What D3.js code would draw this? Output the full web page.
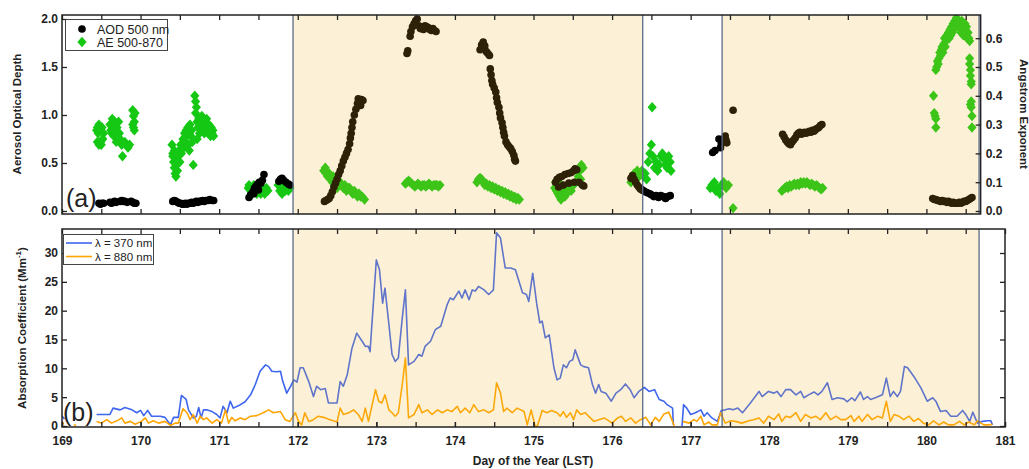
<!DOCTYPE html>
<html><head><meta charset="utf-8">
<script src="https://cdn.jsdelivr.net/npm/d3@7"></script>
<style>body{margin:0;background:#fff}svg{display:block;font-family:"Liberation Sans",Arial,sans-serif}</style>
</head><body><svg id="c" width="1029" height="469"></svg>
<script>
// ---------- DATA ----------
const xTicks = [169,170,171,172,173,174,175,176,177,178,179,180,181];
const aodTicks = [0,0.5,1.0,1.5,2.0];
const aeTicks = [0,0.1,0.2,0.3,0.4,0.5,0.6];
const absTicks = [0,5,10,15,20,25,30];
const shadeStart = [171.94, 177.40];
const shadeEnd = [176.39, 180.67];

// AOD 500 nm [day, AOD]
const aod = [
[169.47,0.08],[169.49,0.07],[169.51,0.08],[169.53,0.08],
[169.61,0.09],[169.63,0.08],[169.65,0.09],[169.67,0.10],[169.69,0.09],
[169.74,0.10],[169.76,0.11],[169.78,0.10],[169.80,0.10],[169.83,0.09],
[169.88,0.10],[169.90,0.09],[169.92,0.08],[169.94,0.08],
[170.41,0.10],[170.43,0.11],[170.45,0.10],[170.47,0.09],[170.49,0.08],[170.51,0.08],[170.53,0.07],[170.55,0.07],[170.57,0.08],[170.59,0.07],[170.61,0.08],[170.63,0.08],[170.65,0.09],[170.67,0.08],[170.69,0.09],[170.71,0.10],[170.73,0.09],[170.75,0.10],[170.77,0.10],[170.79,0.11],[170.81,0.10],[170.83,0.11],[170.86,0.11],[170.88,0.12],[170.91,0.11],[170.93,0.11],
[171.38,0.14],[171.40,0.17],[171.43,0.20],[171.44,0.18],[171.45,0.24],[171.47,0.26],[171.49,0.28],[171.50,0.22],[171.51,0.30],[171.53,0.29],[171.55,0.32],[171.57,0.38],
[171.76,0.31],[171.78,0.33],[171.80,0.34],[171.82,0.32],[171.85,0.30],[171.88,0.28],[171.90,0.27],
[172.34,0.10],[172.36,0.11],[172.38,0.12],[172.40,0.13],[172.42,0.16],[172.44,0.20],[172.46,0.25],[172.48,0.29],[172.50,0.33],[172.52,0.38],[172.54,0.42],[172.56,0.47],[172.58,0.52],[172.60,0.56],[172.62,0.60],[172.64,0.64],[172.66,0.70],[172.67,0.76],[172.68,0.81],[172.69,0.87],[172.70,0.93],[172.72,1.00],[172.74,1.06],[172.76,1.12],[172.77,1.17],[172.79,1.14],[172.80,1.10],[172.81,1.16],[172.83,1.15],
[173.39,1.64],[173.40,1.67],[173.43,1.82],[173.44,1.87],[173.46,1.92],[173.48,1.95],[173.50,1.98],[173.52,2.00],[173.54,1.93],[173.56,1.90],[173.58,1.92],[173.60,1.89],[173.62,1.93],[173.64,1.92],[173.66,1.91],[173.68,1.89],[173.70,1.88],[173.72,1.90],[173.74,1.88],[173.76,1.87],
[174.32,1.68],[174.34,1.73],[174.36,1.76],[174.38,1.72],[174.40,1.66],[174.42,1.64],[174.44,1.62],[174.45,1.48],[174.46,1.42],[174.47,1.36],[174.48,1.32],[174.50,1.28],[174.52,1.24],[174.53,1.18],[174.54,1.13],[174.56,1.08],[174.57,1.02],[174.58,0.97],[174.60,0.92],[174.61,0.87],[174.62,0.82],[174.63,0.78],[174.65,0.72],[174.67,0.69],[174.69,0.67],[174.71,0.65],[174.73,0.62],[174.75,0.58],[174.76,0.54],[174.77,0.52],
[175.28,0.30],[175.30,0.33],[175.33,0.35],[175.36,0.36],[175.40,0.38],[175.44,0.39],[175.48,0.40],[175.51,0.42],[175.53,0.44],[175.55,0.43],
[175.32,0.25],[175.38,0.27],[175.45,0.29],[175.52,0.30],[175.58,0.30],[175.62,0.27],[175.64,0.26],
[176.24,0.34],[176.26,0.37],[176.28,0.33],[176.30,0.30],[176.32,0.27],[176.34,0.25],[176.36,0.23],[176.38,0.22],[176.40,0.21],[176.42,0.20],[176.45,0.19],[176.48,0.18],[176.50,0.17],[176.53,0.15],[176.56,0.16],[176.59,0.14],[176.62,0.16],[176.65,0.15],[176.68,0.13],[176.71,0.15],[176.74,0.16],
[177.28,0.61],[177.31,0.63],[177.36,0.75],[177.38,0.66],[177.39,0.70],[177.44,0.78],[177.45,0.74],[177.46,0.71],[177.54,1.05],
[178.17,0.80],[178.19,0.77],[178.21,0.74],[178.23,0.72],[178.25,0.70],[178.27,0.69],[178.29,0.72],[178.31,0.74],[178.33,0.76],[178.35,0.79],[178.37,0.81],[178.39,0.82],[178.41,0.80],[178.43,0.81],[178.45,0.82],[178.47,0.81],[178.49,0.82],[178.51,0.83],[178.53,0.82],[178.55,0.84],[178.57,0.83],[178.59,0.85],[178.61,0.86],[178.63,0.87],[178.65,0.89],[178.67,0.90],
[180.08,0.13],[180.10,0.12],[180.12,0.12],[180.14,0.11],[180.16,0.11],[180.18,0.10],[180.20,0.11],[180.22,0.10],[180.24,0.10],[180.26,0.09],[180.28,0.10],[180.30,0.09],[180.32,0.08],[180.34,0.09],[180.36,0.08],[180.38,0.08],[180.40,0.08],[180.42,0.09],[180.44,0.08],[180.46,0.09],[180.48,0.10],[180.50,0.10],[180.52,0.11],[180.54,0.12],[180.56,0.13],[180.58,0.14]
];

// AE 500-870 [day, AE]
const ae = [
[169.44,0.28],[169.45,0.29],[169.46,0.27],[169.47,0.30],[169.48,0.28],[169.45,0.24],[169.47,0.23],[169.49,0.24],[169.50,0.23],[169.52,0.25],[169.53,0.27],[169.51,0.29],
[169.61,0.30],[169.62,0.28],[169.63,0.27],[169.64,0.32],[169.65,0.29],[169.66,0.26],[169.67,0.31],[169.68,0.28],[169.69,0.24],[169.70,0.29],[169.72,0.31],[169.73,0.27],[169.74,0.25],[169.77,0.19],[169.76,0.23],
[169.80,0.24],[169.82,0.23],[169.84,0.22],[169.86,0.23],
[169.90,0.35],[169.91,0.33],[169.92,0.31],[169.91,0.29],[169.93,0.34],[169.92,0.28],[169.90,0.30],
[170.40,0.23],[170.41,0.20],[170.42,0.17],[170.43,0.15],[170.44,0.13],[170.45,0.12],[170.41,0.19],[170.43,0.21],[170.45,0.18],[170.46,0.16],[170.47,0.14],[170.48,0.19],[170.49,0.21],[170.50,0.17],[170.51,0.23],[170.52,0.20],
[170.54,0.25],[170.55,0.22],[170.56,0.27],[170.57,0.24],[170.58,0.28],[170.59,0.26],[170.60,0.29],[170.61,0.23],[170.62,0.27],[170.63,0.30],[170.64,0.26],[170.65,0.28],[170.66,0.24],[170.67,0.16],[170.62,0.21],
[170.69,0.40],[170.70,0.38],[170.71,0.36],[170.70,0.34],[170.72,0.31],[170.73,0.29],[170.74,0.32],[170.75,0.27],[170.72,0.25],
[170.77,0.31],[170.78,0.33],[170.79,0.29],[170.80,0.31],[170.81,0.27],[170.82,0.30],[170.83,0.28],[170.84,0.32],[170.85,0.29],[170.86,0.27],[170.87,0.30],[170.88,0.28],[170.89,0.26],[170.90,0.29],[170.91,0.27],[170.92,0.28],[170.93,0.26],
[171.37,0.08],[171.38,0.09],[171.40,0.07],[171.41,0.08],[171.42,0.06],[171.44,0.09],[171.45,0.07],[171.47,0.08],[171.48,0.06],[171.50,0.07],[171.52,0.09],[171.53,0.06],[171.55,0.08],[171.57,0.07],[171.58,0.06],[171.60,0.08],[171.62,0.07],
[171.75,0.09],[171.77,0.07],[171.79,0.10],[171.80,0.06],[171.82,0.08],[171.84,0.07],[171.86,0.08],[171.88,0.07],[171.90,0.08],
[172.33,0.14],[172.35,0.15],[172.36,0.13],[172.38,0.12],[172.40,0.13],[172.42,0.11],[172.44,0.10],[172.45,0.12],[172.47,0.09],[172.49,0.10],[172.50,0.08],[172.52,0.09],[172.54,0.10],[172.56,0.09],[172.58,0.08],[172.60,0.09],[172.62,0.07],[172.64,0.08],[172.66,0.08],[172.68,0.07],[172.70,0.06],[172.72,0.07],[172.74,0.06],[172.76,0.05],[172.78,0.06],[172.80,0.05],[172.82,0.05],[172.85,0.04],
[173.37,0.095],[173.39,0.10],[173.41,0.105],[173.43,0.10],[173.45,0.095],[173.47,0.09],[173.49,0.085],[173.51,0.09],[173.53,0.095],[173.55,0.09],[173.57,0.085],[173.59,0.09],[173.61,0.09],[173.63,0.085],[173.65,0.09],[173.67,0.095],[173.69,0.09],[173.71,0.085],[173.73,0.09],[173.75,0.09],[173.77,0.09],[173.79,0.085],[173.81,0.09],
[174.28,0.10],[174.30,0.11],[174.32,0.115],[174.34,0.11],[174.36,0.10],[174.38,0.09],[174.40,0.095],[174.42,0.085],[174.44,0.09],[174.46,0.08],[174.48,0.085],[174.50,0.075],[174.52,0.08],[174.54,0.07],[174.56,0.075],[174.58,0.065],[174.60,0.07],[174.62,0.06],[174.64,0.065],[174.66,0.055],[174.68,0.06],[174.70,0.05],[174.72,0.055],[174.74,0.045],[174.76,0.05],[174.78,0.04],[174.80,0.045],[174.82,0.04],
[175.27,0.08],[175.29,0.07],[175.31,0.06],[175.33,0.05],[175.35,0.04],[175.37,0.06],[175.30,0.09],[175.32,0.10],[175.35,0.09],[175.39,0.07],[175.42,0.06],[175.45,0.08],[175.48,0.07],[175.51,0.09],[175.54,0.10],[175.57,0.12],[175.59,0.14],[175.61,0.16],[175.63,0.15],[175.60,0.11],[175.28,0.10],[175.40,0.05],
[176.24,0.10],[176.26,0.12],[176.28,0.13],[176.30,0.11],[176.32,0.14],[176.34,0.12],[176.36,0.13],[176.38,0.14],[176.40,0.12],[176.42,0.13],[176.44,0.11],
[176.46,0.17],[176.48,0.20],[176.50,0.23],[176.51,0.36],[176.52,0.19],[176.54,0.15],[176.56,0.17],[176.58,0.14],[176.60,0.16],[176.62,0.19],[176.64,0.20],[176.66,0.18],[176.68,0.16],[176.70,0.15],[176.72,0.19],[176.74,0.17],[176.75,0.14],
[177.25,0.08],[177.27,0.09],[177.30,0.10],[177.32,0.07],[177.35,0.08],[177.37,0.06],[177.40,0.09],[177.42,0.10],[177.45,0.08],[177.48,0.09],[177.54,0.01],
[178.16,0.07],[178.18,0.075],[178.20,0.08],[178.22,0.085],[178.24,0.08],[178.26,0.09],[178.28,0.085],[178.30,0.09],[178.32,0.095],[178.34,0.09],[178.36,0.095],[178.38,0.09],[178.40,0.10],[178.42,0.095],[178.44,0.10],[178.46,0.095],[178.48,0.10],[178.50,0.095],[178.52,0.09],[178.54,0.095],[178.56,0.09],[178.58,0.085],[178.60,0.09],[178.62,0.085],[178.64,0.08],[178.66,0.075],[178.68,0.08],
[180.09,0.40],[180.10,0.34],[180.11,0.33],[180.12,0.29],[180.12,0.32],
[180.12,0.49],[180.13,0.50],[180.14,0.52],[180.15,0.51],[180.16,0.53],[180.17,0.55],[180.18,0.54],[180.19,0.56],[180.20,0.57],[180.21,0.55],[180.22,0.58],[180.23,0.60],[180.24,0.57],[180.25,0.59],[180.26,0.61],[180.27,0.60],[180.28,0.62],[180.29,0.60],[180.30,0.63],[180.31,0.61],[180.32,0.64],[180.33,0.62],[180.34,0.65],[180.35,0.63],[180.36,0.66],[180.37,0.64],[180.38,0.67],[180.39,0.65],[180.40,0.66],[180.41,0.64],[180.42,0.66],[180.43,0.65],[180.44,0.62],[180.45,0.66],[180.46,0.64],[180.47,0.61],[180.48,0.63],[180.49,0.65],[180.50,0.62],[180.51,0.64],[180.52,0.60],[180.53,0.62],[180.54,0.60],[180.55,0.59],
[180.55,0.53],[180.55,0.51],[180.56,0.49],[180.56,0.47],[180.57,0.45],[180.57,0.44],[180.56,0.37],[180.57,0.36],[180.58,0.33],[180.57,0.38],[180.58,0.29]
];

// Absorption coefficient, lambda = 370 nm [day, Mm^-1] (null = gap)
const abs370 = [
[169.00,1.8],[169.03,1.2],[169.04,null],
[169.44,2.0],[169.61,2.0],[169.65,3.1],[169.74,2.8],[169.80,3.2],[169.89,2.8],[169.95,2.3],[170.00,2.7],[170.04,1.8],[170.09,2.7],[170.14,1.7],[170.25,1.7],[170.31,1.5],[170.38,0.2],[170.42,1.5],[170.48,1.5],[170.52,5.3],[170.58,4.6],[170.61,2.8],[170.67,1.4],[170.71,1.7],[170.74,3.2],[170.77,1.4],[170.80,2.8],[170.84,2.8],[170.91,2.5],[170.97,2.0],[171.01,1.4],[171.05,3.4],[171.10,2.3],[171.14,4.3],[171.18,3.1],[171.27,3.7],[171.33,4.2],[171.40,5.4],[171.46,7.2],[171.52,9.5],[171.59,10.6],[171.63,10.3],[171.67,9.5],[171.73,9.4],[171.78,9.5],[171.81,7.7],[171.86,5.7],[171.91,6.9],[171.95,8.0],[171.99,7.6],[172.03,10.1],[172.07,10.1],[172.14,7.7],[172.20,5.1],[172.24,6.9],[172.29,6.3],[172.35,6.5],[172.39,4.0],[172.46,4.0],[172.50,4.0],[172.54,7.7],[172.58,6.9],[172.63,8.9],[172.69,13.5],[172.75,16.1],[172.82,14.7],[172.86,13.8],[172.90,13.8],[172.92,12.9],[173.00,28.8],[173.04,27.1],[173.08,21.3],[173.11,23.9],[173.16,17.6],[173.20,12.4],[173.24,11.2],[173.28,11.8],[173.33,18.7],[173.37,23.6],[173.41,10.6],[173.48,11.2],[173.54,12.4],[173.58,12.1],[173.62,13.8],[173.69,14.7],[173.75,16.7],[173.82,17.3],[173.90,21.0],[173.94,22.2],[173.98,21.9],[174.05,23.4],[174.09,22.2],[174.13,23.6],[174.18,21.9],[174.22,23.6],[174.26,23.4],[174.30,24.2],[174.37,23.6],[174.43,22.8],[174.49,23.6],[174.53,33.5],[174.58,32.6],[174.64,27.4],[174.71,27.4],[174.77,27.1],[174.86,23.1],[174.91,22.8],[174.94,21.6],[174.99,26.5],[175.04,21.3],[175.08,17.9],[175.11,18.2],[175.15,15.3],[175.20,15.8],[175.26,10.1],[175.30,8.0],[175.34,8.3],[175.38,10.6],[175.42,10.1],[175.46,11.2],[175.50,11.5],[175.53,13.2],[175.60,10.6],[175.64,10.3],[175.70,10.1],[175.75,7.2],[175.79,5.7],[175.83,7.2],[175.86,6.0],[175.92,5.7],[175.99,4.3],[176.05,5.7],[176.11,6.3],[176.17,7.3],[176.23,6.3],[176.28,4.9],[176.34,6.0],[176.41,6.7],[176.47,6.0],[176.54,6.3],[176.60,4.6],[176.66,4.3],[176.70,3.7],[176.77,3.1],[176.78,0.2],[176.80,null],
[176.89,0.0],[176.91,3.7],[176.95,3.1],[177.00,2.0],[177.06,2.3],[177.13,2.8],[177.17,1.7],[177.21,2.3],[177.27,1.4],[177.34,0.8],[177.39,2.7],[177.44,2.8],[177.49,3.0],[177.54,2.8],[177.60,3.1],[177.66,2.3],[177.76,4.0],[177.87,6.0],[177.91,5.1],[177.99,6.0],[178.06,5.7],[178.10,6.0],[178.15,5.1],[178.21,6.3],[178.27,6.3],[178.34,5.4],[178.40,6.0],[178.44,4.9],[178.50,5.4],[178.57,5.9],[178.62,5.4],[178.67,6.0],[178.74,7.5],[178.80,4.6],[178.87,4.9],[178.95,4.7],[178.99,4.2],[179.05,4.9],[179.09,4.4],[179.16,5.9],[179.20,4.6],[179.25,5.1],[179.29,4.6],[179.35,4.9],[179.44,5.4],[179.49,8.3],[179.54,5.1],[179.58,6.0],[179.63,5.1],[179.67,6.0],[179.72,10.3],[179.76,10.1],[179.84,8.6],[179.93,6.6],[180.01,4.3],[180.08,4.9],[180.12,4.3],[180.18,2.5],[180.25,2.7],[180.31,1.7],[180.39,1.7],[180.46,2.7],[180.50,2.0],[180.55,0.8],[180.59,2.4],[180.65,0.5],[180.71,0.8],[180.78,0.9],[180.82,0.9],[180.84,0.2]
];

// Absorption coefficient, lambda = 880 nm [day, Mm^-1]
const abs880 = [
[169.00,0.8],[169.02,0.3],[169.03,null],[169.15,0.2],[169.18,0.1],[169.19,null],
[169.44,0.8],[169.50,0.5],[169.57,1.1],[169.63,0.5],[169.70,0.9],[169.76,1.4],[169.80,0.5],[169.87,0.8],[169.93,0.3],[170.01,0.8],[170.06,1.4],[170.10,0.5],[170.16,0.9],[170.23,0.5],[170.31,0.8],[170.38,0.1],[170.44,0.5],[170.48,0.5],[170.54,3.0],[170.59,2.3],[170.63,1.1],[170.67,2.0],[170.72,0.5],[170.76,1.7],[170.80,1.1],[170.84,1.4],[170.91,0.5],[170.97,1.1],[171.03,0.5],[171.08,2.8],[171.12,0.5],[171.16,1.5],[171.20,0.9],[171.27,1.4],[171.33,1.1],[171.40,1.7],[171.48,1.8],[171.56,2.3],[171.63,2.8],[171.69,2.3],[171.78,2.5],[171.84,1.1],[171.90,0.8],[171.97,2.3],[172.01,0.8],[172.05,0.2],[172.09,2.3],[172.14,0.8],[172.20,1.1],[172.26,1.7],[172.33,1.5],[172.41,1.1],[172.50,0.7],[172.54,3.1],[172.58,2.0],[172.65,2.3],[172.71,2.8],[172.77,2.0],[172.82,0.8],[172.86,3.1],[172.90,0.8],[172.99,6.3],[173.03,4.3],[173.07,4.0],[173.11,5.4],[173.16,2.8],[173.20,2.3],[173.24,1.7],[173.28,2.3],[173.33,7.2],[173.37,11.8],[173.41,1.4],[173.48,2.0],[173.54,3.7],[173.58,2.3],[173.65,2.8],[173.71,2.0],[173.78,2.8],[173.84,2.3],[173.90,2.8],[173.96,2.5],[174.03,3.4],[174.07,2.3],[174.13,3.1],[174.19,2.3],[174.24,3.7],[174.30,2.5],[174.37,2.8],[174.43,2.3],[174.49,2.8],[174.53,7.5],[174.58,5.7],[174.62,2.5],[174.66,3.1],[174.73,2.3],[174.79,3.1],[174.88,2.5],[174.92,0.2],[174.97,2.8],[175.02,0.0],[175.05,0.0],[175.11,2.7],[175.17,2.3],[175.23,2.7],[175.30,2.3],[175.34,1.7],[175.38,2.5],[175.42,1.5],[175.47,2.3],[175.51,1.1],[175.55,2.8],[175.60,2.0],[175.66,2.3],[175.70,1.7],[175.77,0.8],[175.83,1.1],[175.90,1.4],[175.96,0.9],[176.00,0.5],[176.07,1.4],[176.12,1.7],[176.17,0.8],[176.24,1.4],[176.30,0.5],[176.36,1.1],[176.43,1.5],[176.49,0.2],[176.55,1.5],[176.60,0.8],[176.66,2.1],[176.72,2.4],[176.77,0.8],[176.79,0.0],[176.80,null],
[176.90,0.8],[176.98,0.5],[177.04,1.1],[177.08,0.8],[177.13,1.7],[177.17,0.2],[177.23,0.7],[177.27,0.2],[177.34,0.2],[177.38,2.3],[177.44,0.5],[177.51,0.9],[177.57,0.8],[177.65,0.5],[177.74,0.9],[177.80,1.1],[177.87,1.4],[177.93,0.5],[177.99,1.7],[178.06,1.1],[178.12,2.1],[178.16,0.8],[178.21,1.7],[178.27,1.5],[178.34,2.3],[178.40,0.8],[178.46,2.0],[178.53,1.4],[178.59,1.7],[178.65,1.1],[178.72,2.3],[178.78,1.1],[178.85,1.7],[178.91,1.1],[178.97,1.1],[179.04,1.8],[179.08,0.8],[179.14,1.7],[179.18,0.8],[179.25,2.0],[179.31,1.1],[179.38,1.7],[179.44,1.4],[179.49,4.3],[179.54,0.8],[179.59,2.0],[179.65,1.7],[179.71,1.1],[179.78,1.7],[179.84,0.8],[179.90,1.3],[179.96,0.5],[180.03,0.2],[180.09,0.9],[180.16,0.2],[180.22,0.7],[180.28,0.2],[180.35,0.2],[180.42,0.8],[180.48,0.2],[180.54,0.7],[180.61,0.2],[180.65,0.9],[180.73,0.2],[180.80,0.2],[180.84,0.3]
];

// ---------- CHART ----------
const svg = d3.select("#c");
const FONT = '"Liberation Sans", Arial, sans-serif';
const x = d3.scaleLinear().domain([169,181]).range([62,1005]);
const aEnd = 180.69;
const A = {top:15, bottom:214, left:62, right:x(aEnd)};
const B = {top:229, bottom:427, left:62, right:1005};
const yAod = d3.scaleLinear().domain([0,2]).range([211,19]);
const yAe = d3.scaleLinear().domain([0,0.6]).range([211,38.2]);
const yAbs = d3.scaleLinear().domain([0,30]).range([426,253]);

const defs = svg.append("defs");
defs.append("clipPath").attr("id","clipA").append("rect")
  .attr("x",A.left).attr("y",A.top).attr("width",A.right-A.left).attr("height",A.bottom-A.top);
defs.append("clipPath").attr("id","clipB").append("rect")
  .attr("x",B.left).attr("y",B.top).attr("width",B.right-B.left).attr("height",B.bottom-B.top);

const shadeFill = "rgb(240,178,40)", shadeOp = 0.19, edgeCol = "#5a6a88";
const halfTicks = d3.range(169, 181.01, 0.5);

// ---- Panel (a)
const gA = svg.append("g").attr("clip-path","url(#clipA)");
const diamond = "M0,-5.2L4.6,0L0,5.2L-4.6,0Z";
gA.selectAll("path.ae").data(ae).join("path").attr("class","ae")
  .attr("d",diamond).attr("transform",d=>`translate(${x(d[0])},${yAe(d[1])})`)
  .attr("fill","#14c814");
gA.selectAll("circle.aod").data(aod).join("circle").attr("class","aod")
  .attr("cx",d=>x(d[0])).attr("cy",d=>yAod(d[1])).attr("r",3.8).attr("fill","#000");
shadeStart.forEach((s,i)=>{
  const e = Math.min(shadeEnd[i], aEnd);
  gA.append("rect").attr("x",x(s)).attr("y",A.top).attr("width",x(e)-x(s)).attr("height",A.bottom-A.top)
    .attr("fill",shadeFill).attr("opacity",shadeOp);
  [s, shadeEnd[i]].forEach(v=>{ if (v<aEnd) gA.append("line").attr("x1",x(v)).attr("x2",x(v)).attr("y1",A.top).attr("y2",A.bottom).attr("stroke",edgeCol).attr("stroke-width",1.3);});
});

function styleAxis(g, withText){
  g.select(".domain").remove();
  g.selectAll(".tick line").attr("stroke","#222").attr("stroke-width",1.3);
  g.selectAll(".tick text").attr("font-family",FONT).attr("font-size","12px").attr("font-weight","bold").attr("fill","#222");
  if(!withText) g.selectAll(".tick text").remove();
}
styleAxis(svg.append("g").attr("transform",`translate(${A.left},0)`)
  .call(d3.axisLeft(yAod).tickValues(aodTicks).tickFormat(d3.format(".1f")).tickSize(-5).tickPadding(4)), true);
styleAxis(svg.append("g").attr("transform",`translate(${A.right},0)`)
  .call(d3.axisRight(yAe).tickValues(aeTicks).tickFormat(d3.format(".1f")).tickSize(-5).tickPadding(5)), true);
const xA = d3.scaleLinear().domain([169,aEnd]).range([A.left,A.right]);
styleAxis(svg.append("g").attr("transform",`translate(0,${A.bottom})`)
  .call(d3.axisBottom(xA).tickValues(halfTicks.filter(v=>v<aEnd)).tickSize(-5)), false);
styleAxis(svg.append("g").attr("transform",`translate(0,${A.top})`)
  .call(d3.axisTop(xA).tickValues(halfTicks.filter(v=>v<aEnd)).tickSize(-5)), false);
svg.append("rect").attr("x",A.left).attr("y",A.top).attr("width",A.right-A.left).attr("height",A.bottom-A.top)
  .attr("fill","none").attr("stroke","#222").attr("stroke-width",1.5);

// legend (a)
const legA = svg.append("g");
legA.append("rect").attr("x",65.5).attr("y",19.5).attr("width",102).attr("height",31).attr("fill","#fff").attr("stroke","#444").attr("stroke-width",1);
legA.append("circle").attr("cx",82).attr("cy",29).attr("r",3.8).attr("fill","#000");
legA.append("path").attr("d",diamond).attr("transform","translate(82,42)").attr("fill","#14c814");
legA.append("text").attr("x",97).attr("y",33.5).text("AOD 500 nm").attr("font-family",FONT).attr("font-size","12.5px").attr("fill","#222");
legA.append("text").attr("x",97).attr("y",46.5).text("AE 500-870").attr("font-family",FONT).attr("font-size","12.5px").attr("fill","#222");
svg.append("text").attr("x",66).attr("y",207).text("(a)").attr("font-family",FONT).attr("font-size","25px").attr("fill","#222");

svg.append("text").attr("transform","translate(21,114) rotate(-90)").attr("text-anchor","middle")
  .text("Aerosol Optical Depth").attr("font-family",FONT).attr("font-size","11.5px").attr("font-weight","bold").attr("fill","#222");
svg.append("text").attr("transform","translate(1020,114) rotate(90)").attr("text-anchor","middle")
  .text("Angstrom Exponent").attr("font-family",FONT).attr("font-size","11.5px").attr("font-weight","bold").attr("fill","#222");

// ---- Panel (b)
const gB = svg.append("g").attr("clip-path","url(#clipB)");
const line = d3.line().defined(d=>d[1]!==null).x(d=>x(d[0])).y(d=>yAbs(d[1]));
gB.append("path").datum(abs370).attr("d",line).attr("fill","none").attr("stroke","#3f66ee").attr("stroke-width",1.6).attr("stroke-linejoin","round");
gB.append("path").datum(abs880).attr("d",line).attr("fill","none").attr("stroke","#ffa500").attr("stroke-width",1.6).attr("stroke-linejoin","round");
shadeStart.forEach((s,i)=>{
  const e = shadeEnd[i];
  gB.append("rect").attr("x",x(s)).attr("y",B.top).attr("width",x(e)-x(s)).attr("height",B.bottom-B.top)
    .attr("fill",shadeFill).attr("opacity",shadeOp);
  [s,e].forEach(v=>gB.append("line").attr("x1",x(v)).attr("x2",x(v)).attr("y1",B.top).attr("y2",B.bottom).attr("stroke",edgeCol).attr("stroke-width",1.3));
});
styleAxis(svg.append("g").attr("transform",`translate(${B.left},0)`)
  .call(d3.axisLeft(yAbs).tickValues(absTicks).tickSize(-5).tickPadding(4)), true);
styleAxis(svg.append("g").attr("transform",`translate(${B.right},0)`)
  .call(d3.axisRight(yAbs).tickValues(absTicks).tickSize(-5)), false);
styleAxis(svg.append("g").attr("transform",`translate(0,${B.bottom})`)
  .call(d3.axisBottom(x).tickValues(halfTicks).tickSize(-5)), false);
styleAxis(svg.append("g").attr("transform",`translate(0,${B.top})`)
  .call(d3.axisTop(x).tickValues(halfTicks).tickSize(-5)), false);
styleAxis(svg.append("g").attr("transform",`translate(0,${B.bottom})`)
  .call(d3.axisBottom(x).tickValues(xTicks).tickFormat(d3.format("d")).tickSize(-5).tickPadding(9)), true);
svg.append("rect").attr("x",B.left).attr("y",B.top).attr("width",B.right-B.left).attr("height",B.bottom-B.top)
  .attr("fill","none").attr("stroke","#222").attr("stroke-width",1.5);

const legB = svg.append("g");
legB.append("rect").attr("x",63.5).attr("y",234.5).attr("width",90).attr("height",30).attr("fill","#fff").attr("stroke","#444").attr("stroke-width",1);
legB.append("line").attr("x1",66).attr("x2",92).attr("y1",243).attr("y2",243).attr("stroke","#3f66ee").attr("stroke-width",1.6);
legB.append("line").attr("x1",66).attr("x2",92).attr("y1",256.5).attr("y2",256.5).attr("stroke","#ffa500").attr("stroke-width",1.6);
legB.append("text").attr("x",95).attr("y",247).text("λ = 370 nm").attr("font-family",FONT).attr("font-size","11.5px").attr("fill","#222");
legB.append("text").attr("x",95).attr("y",260.5).text("λ = 880 nm").attr("font-family",FONT).attr("font-size","11.5px").attr("fill","#222");
svg.append("text").attr("x",63).attr("y",421).text("(b)").attr("font-family",FONT).attr("font-size","25px").attr("fill","#222");

const yl = svg.append("text").attr("transform","translate(26,328) rotate(-90)").attr("text-anchor","middle")
  .attr("font-family",FONT).attr("font-size","11.5px").attr("font-weight","bold").attr("fill","#222");
yl.append("tspan").text("Absorption Coefficient (Mm");
yl.append("tspan").text("-1").attr("font-size","8px").attr("dy","-5");
yl.append("tspan").text(")").attr("dy","5");

svg.append("text").attr("x",533).attr("y",465).attr("text-anchor","middle").text("Day of the Year (LST)")
  .attr("font-family",FONT).attr("font-size","12px").attr("font-weight","bold").attr("fill","#222");
</script></body></html>
